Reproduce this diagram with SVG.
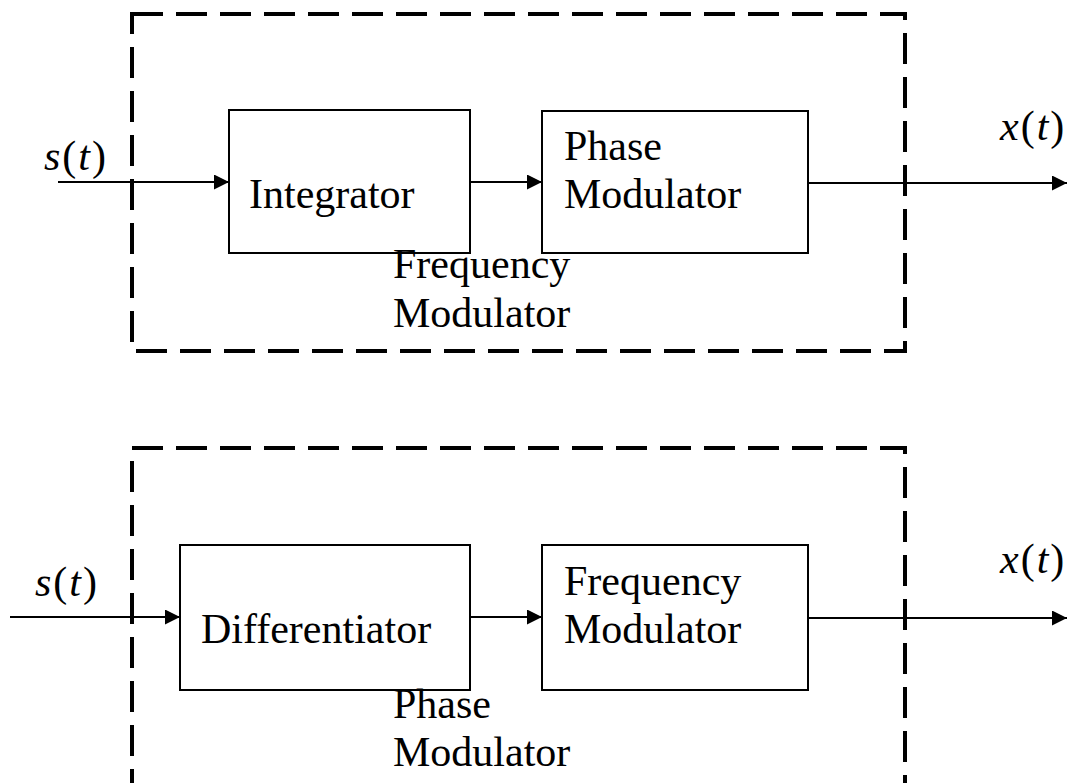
<svg xmlns="http://www.w3.org/2000/svg" width="1067" height="783" viewBox="0 0 1067 783">
<defs>
<marker id="ah" markerWidth="15" markerHeight="15" refX="15" refY="7.5" orient="auto" markerUnits="userSpaceOnUse">
<path d="M0,0 L15,7.5 L0,15 Z" fill="#000"/>
</marker>
<style>
.dash{fill:none;stroke:#000;stroke-width:4;stroke-dasharray:31 13}
.blk{fill:#fff;stroke:#000;stroke-width:2}
.ln{stroke:#000;stroke-width:2;fill:none}
.t{font-family:"Liberation Serif","Times New Roman",serif;font-size:42px;fill:#000}
.sig{letter-spacing:2px}
.i{font-style:italic}
</style>
</defs>
<rect width="1067" height="783" fill="#fff"/>
<g id="fm-boundary"><rect class="dash" x="132" y="14" width="773" height="337"/></g>
<g id="pm-boundary"><path class="dash" d="M132,800 L132,448 L905,448 L905,800"/></g>
<g id="connectors">
<line class="ln" x1="58" y1="182" x2="229" y2="182" marker-end="url(#ah)"/>
<line class="ln" x1="470" y1="182" x2="542" y2="182" marker-end="url(#ah)"/>
<line class="ln" x1="808" y1="183" x2="1067" y2="183" marker-end="url(#ah)"/>
<line class="ln" x1="10" y1="617" x2="180" y2="617" marker-end="url(#ah)"/>
<line class="ln" x1="470" y1="617" x2="542" y2="617" marker-end="url(#ah)"/>
<line class="ln" x1="808" y1="618" x2="1067" y2="618" marker-end="url(#ah)"/>
</g>
<g id="integrator"><rect class="blk" x="229" y="110" width="241" height="143"/><text class="t" x="249" y="208">Integrator</text></g>
<g id="phase-mod-1"><rect class="blk" x="542" y="111" width="266" height="142"/><text class="t" x="564" y="160">Phase</text><text class="t" x="564" y="208">Modulator</text></g>
<g id="fm-label"><text class="t" x="393" y="278">Frequency</text><text class="t" x="393" y="327">Modulator</text></g>
<g id="labels-top"><text class="t sig" x="44" y="170"><tspan class="i">s</tspan>(<tspan class="i">t</tspan>)</text>
<text class="t sig" x="1000" y="140"><tspan class="i">x</tspan>(<tspan class="i">t</tspan>)</text></g>
<g id="differentiator"><rect class="blk" x="180" y="545" width="290" height="145"/><text class="t" x="201" y="643">Differentiator</text></g>
<g id="freq-mod"><rect class="blk" x="542" y="545" width="266" height="145"/><text class="t" x="564" y="595">Frequency</text><text class="t" x="564" y="643">Modulator</text></g>
<g id="pm-label"><text class="t" x="393" y="718">Phase</text><text class="t" x="393" y="766">Modulator</text></g>
<g id="labels-bottom"><text class="t sig" x="35" y="596"><tspan class="i">s</tspan>(<tspan class="i">t</tspan>)</text>
<text class="t sig" x="1000" y="573"><tspan class="i">x</tspan>(<tspan class="i">t</tspan>)</text></g>
</svg>
